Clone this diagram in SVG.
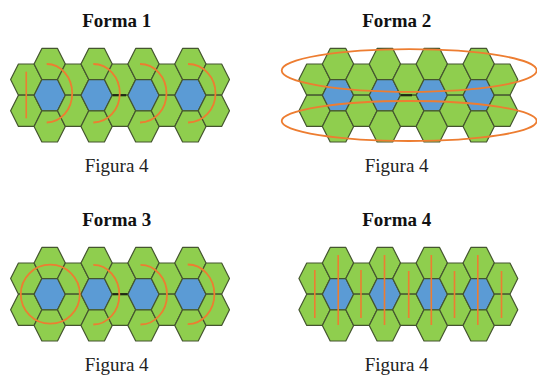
<svg xmlns="http://www.w3.org/2000/svg" xmlns:xlink="http://www.w3.org/1999/xlink" width="537" height="375" viewBox="0 0 537 375">
<style>
.g{fill:#8FCE4E;stroke:#44552F;stroke-width:1.2;stroke-linejoin:round}
.b{fill:#5B9BD5;stroke:#44552F;stroke-width:1.2;stroke-linejoin:round}
.o{fill:none;stroke:#ED7D31;stroke-width:1.8}
.ov{fill:none;stroke:#ED7D31;stroke-width:1.6}
.seam{stroke:#1F2A14;stroke-width:2.2}
.t{font-family:"Liberation Serif","Times New Roman",serif;font-size:19px;font-weight:bold;text-anchor:middle;fill:#111}
.c{font-family:"Liberation Serif","Times New Roman",serif;font-size:19px;text-anchor:middle;fill:#222}
</style>
<defs>
<path id="hex" d="M-15.63,0 L-7.815,-15.6 L7.815,-15.6 L15.63,0 L7.815,15.6 L-7.815,15.6 Z"/>
<g id="grid">
<use href="#hex" x="0" y="-15.6" class="g"/><use href="#hex" x="0" y="15.6" class="g"/>
<use href="#hex" x="23.45" y="-31.2" class="g"/><use href="#hex" x="23.45" y="0" class="b"/><use href="#hex" x="23.45" y="31.2" class="g"/>
<use href="#hex" x="46.9" y="-15.6" class="g"/><use href="#hex" x="46.9" y="15.6" class="g"/>
<use href="#hex" x="70.35" y="-31.2" class="g"/><use href="#hex" x="70.35" y="0" class="b"/><use href="#hex" x="70.35" y="31.2" class="g"/>
<use href="#hex" x="93.8" y="-15.6" class="g"/><use href="#hex" x="93.8" y="15.6" class="g"/>
<use href="#hex" x="117.25" y="-31.2" class="g"/><use href="#hex" x="117.25" y="0" class="b"/><use href="#hex" x="117.25" y="31.2" class="g"/>
<use href="#hex" x="140.7" y="-15.6" class="g"/><use href="#hex" x="140.7" y="15.6" class="g"/>
<use href="#hex" x="164.15" y="-31.2" class="g"/><use href="#hex" x="164.15" y="0" class="b"/><use href="#hex" x="164.15" y="31.2" class="g"/>
<use href="#hex" x="187.6" y="-15.6" class="g"/><use href="#hex" x="187.6" y="15.6" class="g"/>
</g>
</defs>

<g id="forma1">
<text class="t" x="116.7" y="27.3">Forma 1</text>
<use id="grid1" href="#grid" x="26.25" y="95.2"/>
<line class="seam" x1="112.5" y1="95.2" x2="126" y2="95.2"/>
<line class="ov" x1="26.25" y1="71.7" x2="26.25" y2="118.3"/>
<path class="o" d="M46.7,64 A25.5 29.25 0 0 1 46.7,122.5"/>
<path class="o" d="M93.3,64 A26.5 29.25 0 0 1 93.3,122.5"/>
<path class="o" d="M140,64 A26.5 29.25 0 0 1 140,122.5"/>
<path class="o" d="M188,64 A27.5 29.25 0 0 1 188,122.5"/>
<text class="c" x="116.7" y="171.5">Figura 4</text>
</g>

<g id="forma2">
<text class="t" x="396.7" y="27.3">Forma 2</text>
<use id="grid2" href="#grid" x="314.55" y="95.2"/>
<line class="seam" x1="400.8" y1="95.2" x2="412" y2="95.2"/>
<ellipse class="o" cx="409.2" cy="70.5" rx="127.5" ry="21.3"/>
<ellipse class="o" cx="409.2" cy="121" rx="127.5" ry="20"/>
<text class="c" x="396.7" y="171.5">Figura 4</text>
</g>

<g id="forma3">
<text class="t" x="116.7" y="226.2">Forma 3</text>
<use id="grid3" href="#grid" x="26.25" y="294.2"/>
<line class="seam" x1="112.5" y1="294.2" x2="127.5" y2="294.2"/>
<circle class="o" cx="50.3" cy="294.2" r="29.5"/>
<path class="o" d="M93.3,264.8 A26 29.85 0 0 1 93.3,324.5"/>
<path class="o" d="M140.5,264.8 A26.5 29.85 0 0 1 140.5,324.5"/>
<path class="o" d="M187.7,264.5 A26.7 29.85 0 0 1 187.7,324.2"/>
<text class="c" x="116.7" y="370.5">Figura 4</text>
</g>

<g id="forma4">
<text class="t" x="396.7" y="226.2">Forma 4</text>
<use id="grid4" href="#grid" x="314.55" y="294.2"/>
<g id="connectors">
<line class="ov" x1="314.8" y1="270" x2="314.8" y2="318"/>
<line class="ov" x1="338.2" y1="255" x2="338.2" y2="325"/>
<line class="ov" x1="361" y1="270" x2="361" y2="318"/>
<line class="ov" x1="384.5" y1="255" x2="384.5" y2="325"/>
<line class="ov" x1="408.7" y1="271" x2="408.7" y2="318"/>
<line class="ov" x1="431.3" y1="255" x2="431.3" y2="325"/>
<line class="ov" x1="454.5" y1="271" x2="454.5" y2="318"/>
<line class="ov" x1="477.8" y1="255" x2="477.8" y2="325"/>
<line class="ov" x1="501.5" y1="271" x2="501.5" y2="318"/>
</g>
<text class="c" x="396.7" y="370.5">Figura 4</text>
</g>
</svg>
